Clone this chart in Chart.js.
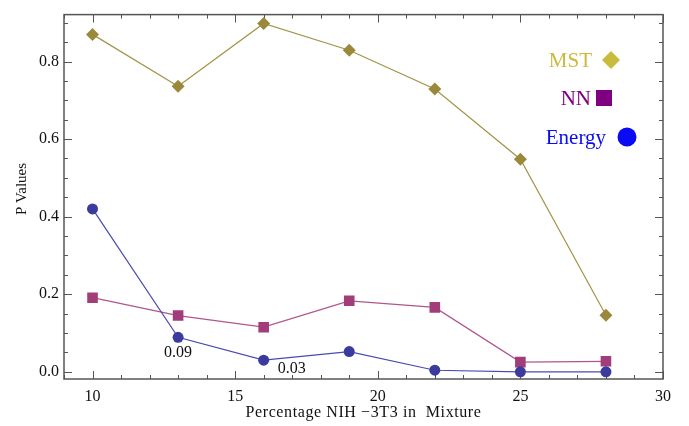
<!DOCTYPE html>
<html>
<head>
<meta charset="utf-8">
<script src="https://cdn.jsdelivr.net/npm/chart.js@4"></script>
<style>
  html, body { margin: 0; padding: 0; background: #fff; }
</style>
</head>
<body>
<canvas id="chart" width="689" height="426"></canvas>
<script>
// values
const percentages = [10, 13, 16, 19, 22, 25, 28];
const mstValues = [0.870, 0.736, 0.898, 0.829, 0.729, 0.548, 0.146];
const nnValues = [0.191, 0.145, 0.115, 0.183, 0.166, 0.025, 0.027];
const energyValues = [0.420, 0.089, 0.030, 0.052, 0.004, 0.000, 0.000];

const xTicks = [10, 15, 20, 25, 30];
const yTicks = [0.0, 0.2, 0.4, 0.6, 0.8];

const xTitle = 'Percentage NIH \u22123T3 in  Mixture';
const yTitle = 'P Values';

// labels written next to two Energy points
const notes = [
  { x: 13, y: 0.089, text: '0.09', dx: 0, dy: 16 },
  { x: 16, y: 0.030, text: '0.03', dx: 28, dy: 9 }
];

const legendItems = [
  { label: 'MST', color: '#cbbb3c', shape: 'diamond' },
  { label: 'NN', color: '#800080', shape: 'square' },
  { label: 'Energy', color: '#0a0af5', shape: 'circle' }
];

const serif = '"Liberation Serif", "DejaVu Serif", serif';

function pts(vals) {
  return percentages.map((x, i) => ({ x: x, y: vals[i] }));
}

// frame with inward ticks on all four sides, titles, notes, legend
const framePlugin = {
  id: 'frame',
  beforeDatasetsDraw(chart) {
    const { ctx, chartArea: a, scales } = chart;
    const xs = scales.x, ys = scales.y;
    ctx.save();
    ctx.strokeStyle = '#555';
    ctx.lineWidth = 1;
    for (let v = 9; v <= 30; v++) {
      const px = Math.round(xs.getPixelForValue(v)) + 0.5;
      const len = v % 5 === 0 ? 8 : 4;
      ctx.beginPath();
      ctx.moveTo(px, a.bottom); ctx.lineTo(px, a.bottom - len);
      ctx.moveTo(px, a.top); ctx.lineTo(px, a.top + len);
      ctx.stroke();
    }
    for (let k = 0; k <= 18; k++) {
      const v = k * 0.05;
      const py = Math.round(ys.getPixelForValue(v)) + 0.5;
      const len = k % 4 === 0 ? 8 : 4;
      ctx.beginPath();
      ctx.moveTo(a.left, py); ctx.lineTo(a.left + len, py);
      ctx.moveTo(a.right, py); ctx.lineTo(a.right - len, py);
      ctx.stroke();
    }
    ctx.lineWidth = 1.5;
    ctx.strokeRect(a.left, a.top, a.right - a.left, a.bottom - a.top);
    ctx.restore();
  },
  afterDraw(chart) {
    const { ctx, chartArea: a, scales } = chart;
    ctx.save();
    ctx.fillStyle = '#111';
    ctx.textAlign = 'center';
    ctx.textBaseline = 'middle';

    // axis titles
    ctx.font = '16px ' + serif;
    ctx.letterSpacing = '0.6px';
    ctx.fillText(xTitle, (a.left + a.right) / 2, 413);
    ctx.letterSpacing = '0px';
    ctx.save();
    ctx.translate(22, 189);
    ctx.rotate(-Math.PI / 2);
    ctx.font = '15px ' + serif;
    ctx.fillText(yTitle, 0, 0);
    ctx.restore();

    // point notes
    ctx.font = '16px ' + serif;
    notes.forEach(n => {
      ctx.fillText(n.text, scales.x.getPixelForValue(n.x) + n.dx, scales.y.getPixelForValue(n.y) + n.dy);
    });

    // legend
    ctx.font = '21px ' + serif;
    ctx.textAlign = 'right';
    const rows = [
      { ty: 60, tx: 592, mx: 611 },
      { ty: 98, tx: 591, mx: 604 },
      { ty: 137, tx: 606, mx: 627 }
    ];
    legendItems.forEach((it, i) => {
      const r = rows[i];
      ctx.fillStyle = it.color;
      ctx.fillText(it.label, r.tx, r.ty + 1);
      ctx.beginPath();
      if (it.shape === 'diamond') {
        ctx.moveTo(r.mx, r.ty - 9); ctx.lineTo(r.mx + 9, r.ty);
        ctx.lineTo(r.mx, r.ty + 9); ctx.lineTo(r.mx - 9, r.ty);
        ctx.closePath();
      } else if (it.shape === 'square') {
        ctx.rect(r.mx - 8, r.ty - 8, 16, 16);
      } else {
        ctx.arc(r.mx, r.ty, 9.5, 0, Math.PI * 2);
      }
      ctx.fill();
    });
    ctx.restore();
  }
};

new Chart(document.getElementById('chart'), {
  type: 'line',
  data: {
    datasets: [
      {
        label: 'Energy',
        data: pts(energyValues),
        borderColor: '#4a4ab0',
        backgroundColor: '#3b3b9e',
        pointStyle: 'circle',
        pointRadius: 5.5,
        pointBorderWidth: 0,
        borderWidth: 1.2,
        tension: 0
      },
      {
        label: 'NN',
        data: pts(nnValues),
        borderColor: '#b0568c',
        backgroundColor: '#a13d79',
        pointStyle: 'rect',
        pointRadius: 7.5,
        pointBorderWidth: 0,
        borderWidth: 1.2,
        tension: 0
      },
      {
        label: 'MST',
        data: pts(mstValues),
        borderColor: '#a39448',
        backgroundColor: '#9a893a',
        pointStyle: 'rectRot',
        pointRadius: 6.5,
        pointBorderWidth: 0,
        borderWidth: 1.2,
        tension: 0
      }
    ]
  },
  options: {
    responsive: false,
    animation: false,
    layout: { padding: { top: 10, right: 26, left: 0, bottom: 0 } },
    plugins: { legend: { display: false }, tooltip: { enabled: false } },
    scales: {
      x: {
        type: 'linear',
        min: 9,
        max: 30,
        afterBuildTicks: s => { s.ticks = xTicks.map(v => ({ value: v })); },
        afterFit: s => { s.height = 47; },
        grid: { display: false, drawTicks: false },
        border: { display: false },
        ticks: { padding: 8, color: '#111', font: { family: serif, size: 16 } }
      },
      y: {
        type: 'linear',
        min: -0.0186,
        max: 0.921,
        afterBuildTicks: s => { s.ticks = yTicks.map(v => ({ value: v })); },
        afterFit: s => { s.width = 64; },
        grid: { display: false, drawTicks: false },
        border: { display: false },
        ticks: {
          padding: 5,
          color: '#111',
          font: { family: serif, size: 16 },
          callback: v => v.toFixed(1)
        }
      }
    }
  },
  plugins: [framePlugin]
});
</script>
</body>
</html>
